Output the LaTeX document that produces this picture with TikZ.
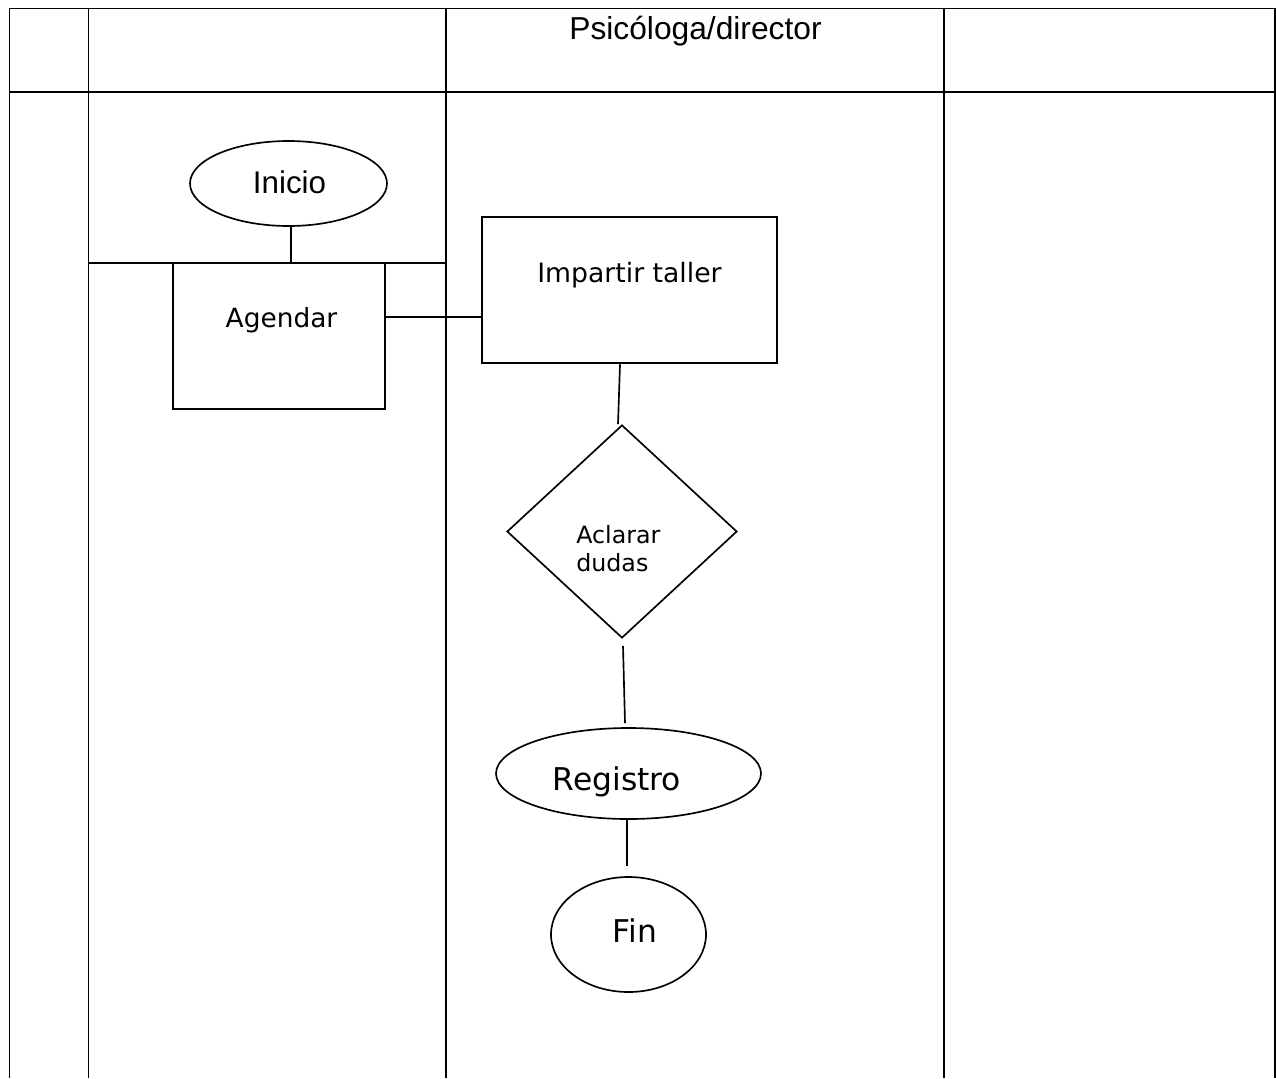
\documentclass[tikz,border=0pt]{standalone}
\usepackage{fontspec}
\setmainfont{DejaVu Sans}
\newfontfamily\arialf{Liberation Sans}
\newfontfamily\verdf{DejaVu Sans}
\usetikzlibrary{shapes.geometric,calc}
\begin{document}
\begin{tikzpicture}[x=0.75pt,y=-0.75pt,
  gridline/.style={line width=1.4pt,black},
  boxshape/.style={draw,line width=1.9pt,rectangle,inner sep=0pt},
  ovalshape/.style={draw,line width=1.25pt,ellipse,inner sep=0pt},
  diashape/.style={draw,line width=1.25pt,diamond,inner sep=0pt},
  link/.style={line width=1.25pt,black},
  lbl/.style={inner sep=0pt,anchor=base}]
\useasboundingbox (0,0) rectangle (1276,1078);
% table
\coordinate (tl) at (9.5,8.5);
\coordinate (tr) at (1275,8.5);
\draw[gridline] (9.5,1078) -- (tl) -- (tr) -- (1275,1078);
\draw[gridline] (9.5,92) -- (1275,92);
\draw[gridline] (88.5,8.5) -- (88.5,1078);
\draw[gridline] (446,8.5) -- (446,1078);
\draw[gridline] (944,8.5) -- (944,1078);
\draw[gridline] (88.5,263) -- (446,263);
\node[lbl,font=\arialf\fontsize{23.8pt}{28pt}\selectfont] (head) at (695.5,39) {Psicóloga/director};
% shapes
\node[ovalshape,minimum width=197*0.75pt,minimum height=85*0.75pt] (inicio) at (288.5,183.5) {};
\node[lbl,font=\arialf\fontsize{23.5pt}{28pt}\selectfont] (inicioT) at (289.5,193) {Inicio};
\node[boxshape,minimum width=212*0.75pt,minimum height=146*0.75pt] (agendar) at (279,336) {};
\node[lbl,font=\verdf\fontsize{19.8pt}{24pt}\selectfont] (agendarT) at (281.5,327) {Agendar};
\node[boxshape,minimum width=295*0.75pt,minimum height=146*0.75pt] (impartir) at (629.5,290) {};
\node[lbl,font=\verdf\fontsize{20pt}{24pt}\selectfont] (impartirT) at (629.5,282) {Impartir taller};
\node[diashape,minimum width=230*0.75pt,minimum height=213*0.75pt] (dudas) at (622,531.5) {};
\node[inner sep=0pt,anchor=base west,align=left,font=\verdf\fontsize{17.8pt}{21pt}\selectfont] (dudasT) at (576,571) {Aclarar\\dudas};
\node[ovalshape,minimum width=265*0.75pt,minimum height=91*0.75pt] (registro) at (628.5,773.5) {};
\node[lbl,font=\verdf\fontsize{23.5pt}{28pt}\selectfont] (registroT) at (617,790) {Registro};
\node[ovalshape,minimum width=155*0.75pt,minimum height=115*0.75pt] (fin) at (628.5,934.5) {};
\node[lbl,font=\verdf\fontsize{23.5pt}{28pt}\selectfont] (finT) at (635,942) {Fin};
% connectors
\coordinate (c1) at ($(inicio.south)+(2.5,0)$);
\draw[link] (c1) -- (c1 |- agendar.north);
\coordinate (c2) at ($(agendar.east)+(0,-19)$);
\draw[link,line width=1.6pt] (c2) -- (c2 -| impartir.west);
\draw[link] ($(impartir.south)+(-9.5,0)$) -- ($(dudas.north)+(-4,0)$);
\draw[link] ($(dudas.south)+(1,7)$) -- ($(registro.north)+(-3.5,-4)$);
\draw[link] ($(registro.south)+(-1.5,0)$) -- ($(fin.north)+(-1.5,-10)$);
\end{tikzpicture}
\end{document}
